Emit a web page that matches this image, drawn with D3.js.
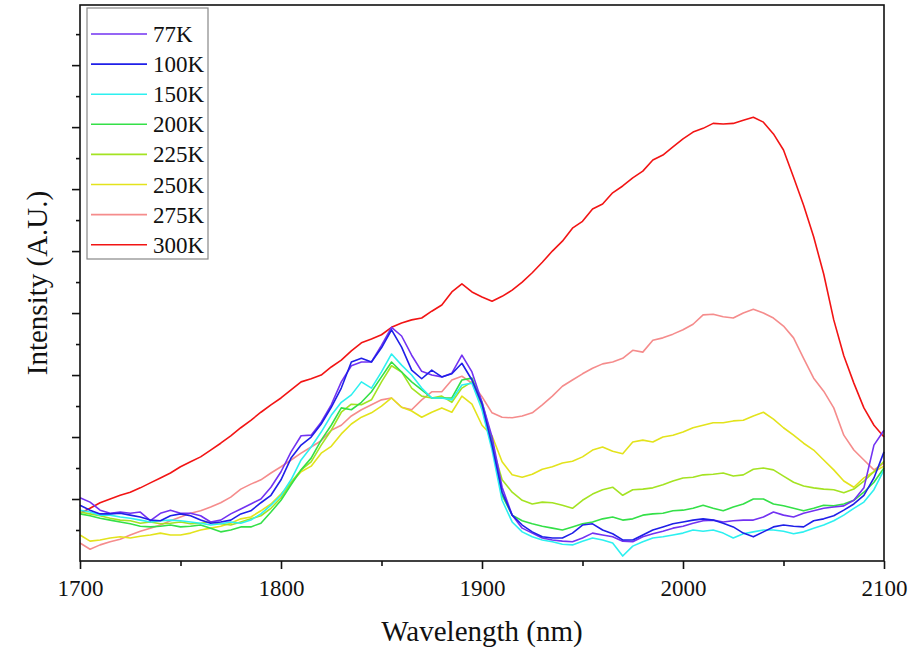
<!DOCTYPE html>
<html><head><meta charset="utf-8">
<script src="https://cdn.jsdelivr.net/npm/d3@7/dist/d3.min.js"></script>
<style>
body{margin:0;background:#fff;}
svg{display:block;}
</style>
</head><body>
<svg id="chart" width="914" height="657"></svg>
<script>
// Wavelength sampling (nm)
const wavelengths = [1700,1705,1710,1715,1720,1725,1730,1735,1740,1745,1750,1755,1760,1765,1770,1775,1780,1785,1790,1795,
  1800,1805,1810,1815,1820,1825,1830,1835,1840,1845,1850,1855,1860,1865,1870,1875,1880,1885,1890,1895,
  1900,1905,1910,1915,1920,1925,1930,1935,1940,1945,1950,1955,1960,1965,1970,1975,1980,1985,1990,1995,
  2000,2005,2010,2015,2020,2025,2030,2035,2040,2045,2050,2055,2060,2065,2070,2075,2080,2085,2090,2095,2100];

const seriesNames = ["77K","100K","150K","200K","225K","250K","275K","300K"];
const seriesColors = ["#7232f2","#1f1fe8","#2df0f0","#34e048","#a4e322","#e3e31c","#f58c8c","#f21414"];

// Intensity (A.U.)
const i77K = [1.02,0.95,0.82,0.77,0.79,0.77,0.79,0.65,0.77,0.82,0.77,0.77,0.73,0.63,0.66,0.76,0.84,0.92,1.00,1.19,
  1.44,1.76,2.02,2.03,2.24,2.52,2.89,3.15,3.21,3.21,3.48,3.77,3.63,3.32,3.06,3.00,2.97,3.03,3.32,3.05,
  2.56,2.00,1.19,0.74,0.53,0.45,0.37,0.34,0.32,0.31,0.37,0.45,0.42,0.39,0.32,0.31,0.39,0.44,0.48,0.53,
  0.56,0.61,0.65,0.66,0.63,0.65,0.66,0.66,0.71,0.79,0.74,0.71,0.77,0.81,0.85,0.87,0.89,0.98,1.18,1.87,2.11];
const i100K = [0.90,0.82,0.76,0.76,0.77,0.74,0.71,0.66,0.65,0.73,0.76,0.73,0.66,0.61,0.63,0.66,0.76,0.81,0.94,1.06,
  1.31,1.66,1.87,2.00,2.21,2.48,2.79,3.21,3.27,3.21,3.44,3.73,3.45,3.08,2.94,3.08,2.97,3.02,3.19,2.92,
  2.53,1.87,1.11,0.74,0.58,0.47,0.39,0.37,0.37,0.45,0.58,0.60,0.50,0.44,0.34,0.34,0.42,0.50,0.55,0.60,
  0.63,0.66,0.68,0.66,0.61,0.55,0.45,0.39,0.47,0.55,0.58,0.56,0.55,0.65,0.68,0.73,0.82,0.92,1.06,1.34,1.76];
const i150K = [0.82,0.79,0.74,0.74,0.71,0.69,0.66,0.63,0.65,0.66,0.65,0.63,0.61,0.58,0.60,0.63,0.61,0.66,0.76,0.90,
  1.06,1.31,1.63,1.84,2.08,2.35,2.56,2.68,2.89,2.79,3.05,3.34,3.16,3.00,2.79,2.63,2.63,2.60,2.84,2.87,
  2.44,1.79,0.98,0.63,0.47,0.39,0.34,0.31,0.27,0.26,0.32,0.37,0.34,0.29,0.08,0.24,0.31,0.37,0.39,0.42,
  0.45,0.50,0.48,0.50,0.45,0.37,0.44,0.47,0.50,0.50,0.48,0.44,0.47,0.53,0.58,0.65,0.74,0.85,0.95,1.15,1.47];
const i200K = [0.76,0.73,0.69,0.66,0.63,0.60,0.56,0.55,0.56,0.58,0.55,0.56,0.58,0.53,0.47,0.50,0.55,0.55,0.61,0.79,
  0.98,1.23,1.47,1.66,1.95,2.19,2.47,2.44,2.56,2.73,2.97,3.21,3.05,2.89,2.76,2.63,2.63,2.63,2.92,2.95,
  2.56,1.95,1.06,0.74,0.65,0.60,0.56,0.53,0.50,0.55,0.60,0.63,0.68,0.71,0.66,0.68,0.74,0.76,0.77,0.81,
  0.82,0.85,0.90,0.85,0.81,0.87,0.92,1.00,1.00,0.92,0.89,0.85,0.81,0.85,0.90,0.89,0.92,0.98,1.11,1.27,1.50];
const i225K = [0.79,0.76,0.73,0.69,0.66,0.65,0.61,0.63,0.60,0.61,0.63,0.60,0.61,0.63,0.60,0.58,0.63,0.68,0.73,0.85,
  1.02,1.27,1.47,1.60,1.87,2.11,2.40,2.53,2.52,2.60,2.89,3.15,3.05,2.79,2.66,2.63,2.66,2.56,2.79,2.89,
  2.47,1.87,1.31,1.11,0.98,0.92,0.95,0.94,0.90,0.85,0.98,1.08,1.15,1.19,1.06,1.15,1.16,1.18,1.23,1.29,
  1.34,1.35,1.39,1.40,1.42,1.37,1.39,1.48,1.50,1.47,1.37,1.27,1.21,1.18,1.16,1.15,1.10,1.16,1.29,1.44,1.61];
const i250K = [0.42,0.32,0.34,0.37,0.39,0.37,0.40,0.42,0.45,0.42,0.42,0.45,0.50,0.53,0.56,0.61,0.68,0.71,0.81,0.92,
  1.08,1.26,1.44,1.53,1.74,1.85,2.05,2.21,2.32,2.39,2.50,2.63,2.48,2.42,2.32,2.40,2.47,2.40,2.66,2.53,
  2.19,2.02,1.60,1.39,1.35,1.40,1.48,1.52,1.58,1.61,1.68,1.79,1.84,1.77,1.73,1.92,1.95,1.92,2.00,2.03,
  2.08,2.15,2.19,2.23,2.23,2.26,2.27,2.34,2.40,2.29,2.15,2.03,1.90,1.79,1.63,1.47,1.29,1.19,1.34,1.44,1.53];
const i275K = [0.29,0.19,0.26,0.31,0.35,0.42,0.48,0.53,0.58,0.65,0.71,0.77,0.81,0.87,0.94,1.03,1.16,1.24,1.31,1.42,
  1.52,1.63,1.74,1.84,1.94,2.11,2.19,2.34,2.44,2.52,2.60,2.63,2.48,2.44,2.60,2.73,2.73,2.92,2.98,2.87,
  2.65,2.39,2.32,2.31,2.34,2.39,2.52,2.66,2.82,2.92,3.02,3.11,3.18,3.21,3.27,3.40,3.37,3.56,3.60,3.66,
  3.73,3.82,3.97,3.98,3.94,3.92,4.00,4.06,4.00,3.92,3.79,3.60,3.27,2.95,2.74,2.47,2.03,1.79,1.63,1.47,1.58];
const i300K = [0.77,0.85,0.94,1.00,1.06,1.11,1.18,1.26,1.34,1.42,1.52,1.60,1.68,1.79,1.90,2.02,2.15,2.27,2.40,2.52,
  2.63,2.76,2.89,2.94,3.00,3.13,3.24,3.39,3.52,3.58,3.65,3.77,3.84,3.89,3.92,4.03,4.13,4.34,4.47,4.34,
  4.26,4.19,4.27,4.37,4.50,4.65,4.82,5.00,5.16,5.37,5.48,5.68,5.76,5.94,6.05,6.18,6.29,6.47,6.55,6.68,
  6.81,6.92,6.98,7.06,7.05,7.06,7.11,7.16,7.08,6.89,6.63,6.19,5.74,5.23,4.63,3.89,3.31,2.87,2.47,2.19,2.00];

const xTickValues = [1700,1800,1900,2000,2100];
const xMinorTicks = [1750,1850,1950,2050];
const yMajorTicks = [1,2,3,4,5,6,7,8];
const yMinorTicks = [0.5,1.5,2.5,3.5,4.5,5.5,6.5,7.5,8.5];

const seriesValues = [i77K,i100K,i150K,i200K,i225K,i250K,i275K,i300K];

const FONT = "'Liberation Serif', 'Times New Roman', Tinos, 'DejaVu Serif', serif";
const svg = d3.select("#chart");
const L = 80, R = 884, T = 5, B = 561;
const x = d3.scaleLinear().domain([1700,2100]).range([L,R]);
const y = d3.scaleLinear().domain([0,8.97]).range([B,T]);

// curves
const line = d3.line().x(d => x(d[0])).y(d => y(d[1]));
const order = [7,6,5,4,3,2,0,1];
const g = svg.append("g");
order.forEach(k => {
  const pts = wavelengths.map((w,i) => [w, seriesValues[k][i]]);
  g.append("path").datum(pts).attr("d", line)
    .attr("fill","none").attr("stroke", seriesColors[k])
    .attr("stroke-width",1.6).attr("stroke-linejoin","round");
});

// frame
svg.append("rect").attr("x",L).attr("y",T).attr("width",R-L).attr("height",B-T)
  .attr("fill","none").attr("stroke","#111").attr("stroke-width",1.6);

// x axis
const xAxis = d3.axisBottom(x).tickValues(xTickValues).tickSize(8).tickFormat(d3.format("d"));
const xa = svg.append("g").attr("transform",`translate(0,${B})`).call(xAxis);
xa.select(".domain").remove();
xa.selectAll(".tick line").attr("stroke","#111").attr("stroke-width",1.6);
xa.selectAll(".tick text").style("font-family",FONT).style("font-size","23px").attr("dy","1.05em").attr("fill","#111");
const xm = svg.append("g").attr("transform",`translate(0,${B})`)
  .call(d3.axisBottom(x).tickValues(xMinorTicks).tickSize(5).tickFormat(""));
xm.select(".domain").remove();
xm.selectAll(".tick line").attr("stroke","#111").attr("stroke-width",1.6);

// y axis (no labels)
const ya = svg.append("g").attr("transform",`translate(${L},0)`)
  .call(d3.axisLeft(y).tickValues(yMajorTicks).tickSize(8).tickFormat(""));
ya.select(".domain").remove();
ya.selectAll(".tick line").attr("stroke","#111").attr("stroke-width",1.6);
const ym = svg.append("g").attr("transform",`translate(${L},0)`)
  .call(d3.axisLeft(y).tickValues(yMinorTicks).tickSize(4).tickFormat(""));
ym.select(".domain").remove();
ym.selectAll(".tick line").attr("stroke","#111").attr("stroke-width",1.6);

// axis titles
svg.append("text").attr("x",(L+R)/2).attr("y",641).attr("text-anchor","middle")
  .style("font-family",FONT).style("font-size","29px").attr("fill","#111").text("Wavelength (nm)");
svg.append("text").attr("transform",`translate(47,${(T+B)/2}) rotate(-90)`).attr("text-anchor","middle")
  .style("font-family",FONT).style("font-size","29px").attr("fill","#111").text("Intensity (A.U.)");

// legend
const lg = svg.append("g");
lg.append("rect").attr("x",87).attr("y",8).attr("width",121).attr("height",251)
  .attr("fill","#fff").attr("stroke","#888").attr("stroke-width",1.2);
seriesNames.forEach((n,i) => {
  const yy = 34 + i*30.1;
  lg.append("line").attr("x1",91).attr("x2",147).attr("y1",yy).attr("y2",yy)
    .attr("stroke",seriesColors[i]).attr("stroke-width",1.6);
  lg.append("text").attr("x",153).attr("y",yy).attr("dy","0.35em")
    .style("font-family",FONT).style("font-size","23px").attr("fill","#111").text(n);
});
</script>
</body></html>
